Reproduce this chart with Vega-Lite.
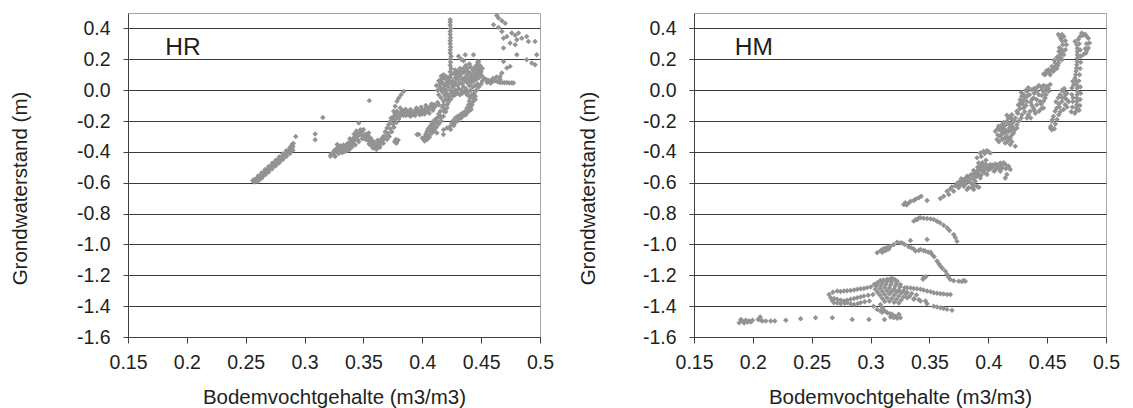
{
"$schema":"https://vega.github.io/schema/vega-lite/v6.json",
"background":"white",
"padding":{"left":9,"top":12,"right":5,"bottom":5},
"bounds":"flush",
"spacing":154,
"config":{"font":"Liberation Sans","view":{"stroke":"#a6a6a6","strokeWidth":1},
"axis":{"labelFont":"Liberation Sans","titleFont":"Liberation Sans","labelColor":"#231f20","titleColor":"#231f20","titleFontWeight":"normal","domainColor":"#404040","tickColor":"#404040","labelFontSize":19.5,"titleFontSize":20.5}},
"datasets":{
"lbl":[{"s":"HR","x":0.1816,"y":0.23},{"s":"HM","x":0.1847,"y":0.23}],
"pts":[
{"s":"HR","x":0.257,"y":-0.592},{"s":"HR","x":0.2585,"y":-0.582},{"s":"HR","x":0.26,"y":-0.571},{"s":"HR","x":0.2615,"y":-0.561},{"s":"HR","x":0.263,"y":-0.551},{"s":"HR","x":0.2645,"y":-0.541},{"s":"HR","x":0.266,"y":-0.531},{"s":"HR","x":0.2675,"y":-0.52},{"s":"HR","x":0.269,"y":-0.51},{"s":"HR","x":0.2705,"y":-0.5},{"s":"HR","x":0.272,"y":-0.49},{"s":"HR","x":0.2735,"y":-0.479},{"s":"HR","x":0.275,"y":-0.469},{"s":"HR","x":0.2765,"y":-0.459},{"s":"HR","x":0.278,"y":-0.449},{"s":"HR","x":0.2795,"y":-0.439},{"s":"HR","x":0.281,"y":-0.428},{"s":"HR","x":0.2825,"y":-0.418},{"s":"HR","x":0.284,"y":-0.408},{"s":"HR","x":0.2855,"y":-0.398},{"s":"HR","x":0.287,"y":-0.387},{"s":"HR","x":0.2885,"y":-0.377},{"s":"HR","x":0.29,"y":-0.367},
{"s":"HR","x":0.2595,"y":-0.59},{"s":"HR","x":0.262,"y":-0.574},{"s":"HR","x":0.2645,"y":-0.557},{"s":"HR","x":0.267,"y":-0.54},{"s":"HR","x":0.2695,"y":-0.523},{"s":"HR","x":0.272,"y":-0.506},{"s":"HR","x":0.2745,"y":-0.489},{"s":"HR","x":0.277,"y":-0.472},{"s":"HR","x":0.2795,"y":-0.455},{"s":"HR","x":0.282,"y":-0.438},{"s":"HR","x":0.2845,"y":-0.421},{"s":"HR","x":0.287,"y":-0.404},{"s":"HR","x":0.289,"y":-0.392},
{"s":"HR","x":0.2575,"y":-0.577},{"s":"HR","x":0.2605,"y":-0.556},{"s":"HR","x":0.2635,"y":-0.536},{"s":"HR","x":0.2665,"y":-0.515},{"s":"HR","x":0.2695,"y":-0.495},{"s":"HR","x":0.2725,"y":-0.474},{"s":"HR","x":0.2755,"y":-0.454},{"s":"HR","x":0.2785,"y":-0.433},{"s":"HR","x":0.2815,"y":-0.413},{"s":"HR","x":0.2845,"y":-0.392},{"s":"HR","x":0.2875,"y":-0.371},{"s":"HR","x":0.2895,"y":-0.36},
{"s":"HR","x":0.2605,"y":-0.59},{"s":"HR","x":0.2635,"y":-0.571},{"s":"HR","x":0.2665,"y":-0.55},{"s":"HR","x":0.2695,"y":-0.53},{"s":"HR","x":0.2725,"y":-0.51},{"s":"HR","x":0.2755,"y":-0.49},{"s":"HR","x":0.2785,"y":-0.47},{"s":"HR","x":0.2815,"y":-0.45},{"s":"HR","x":0.2845,"y":-0.43},{"s":"HR","x":0.2875,"y":-0.41},{"s":"HR","x":0.29,"y":-0.39},
{"s":"HR","x":0.2895,"y":-0.35},{"s":"HR","x":0.2905,"y":-0.345},{"s":"HR","x":0.2925,"y":-0.3},{"s":"HR","x":0.256,"y":-0.585},{"s":"HR","x":0.2575,"y":-0.596},
{"s":"HR","x":0.309,"y":-0.284},{"s":"HR","x":0.309,"y":-0.321},{"s":"HR","x":0.3155,"y":-0.178},{"s":"HR","x":0.355,"y":-0.068},{"s":"HR","x":0.3955,"y":-0.288},{"s":"HR","x":0.4124,"y":-0.277},{"s":"HR","x":0.418,"y":-0.288},
{"s":"HR","x":0.322,"y":-0.428},{"s":"HR","x":0.3225,"y":-0.415},{"s":"HR","x":0.324,"y":-0.405},{"s":"HR","x":0.3255,"y":-0.39},{"s":"HR","x":0.327,"y":-0.38},{"s":"HR","x":0.3277,"y":-0.353},{"s":"HR","x":0.329,"y":-0.37},{"s":"HR","x":0.3305,"y":-0.36},{"s":"HR","x":0.332,"y":-0.39},{"s":"HR","x":0.333,"y":-0.355},{"s":"HR","x":0.3345,"y":-0.38},{"s":"HR","x":0.3361,"y":-0.375},{"s":"HR","x":0.337,"y":-0.35},{"s":"HR","x":0.339,"y":-0.331},{"s":"HR","x":0.3395,"y":-0.36},{"s":"HR","x":0.341,"y":-0.315},{"s":"HR","x":0.3415,"y":-0.345},{"s":"HR","x":0.3432,"y":-0.299},{"s":"HR","x":0.3446,"y":-0.277},{"s":"HR","x":0.3474,"y":-0.256},{"s":"HR","x":0.346,"y":-0.213},{"s":"HR","x":0.345,"y":-0.32},{"s":"HR","x":0.348,"y":-0.29},{"s":"HR","x":0.3517,"y":-0.288},{"s":"HR","x":0.35,"y":-0.31},{"s":"HR","x":0.3545,"y":-0.277},{"s":"HR","x":0.353,"y":-0.3},{"s":"HR","x":0.356,"y":-0.31},{"s":"HR","x":0.355,"y":-0.33},{"s":"HR","x":0.3575,"y":-0.34},{"s":"HR","x":0.3587,"y":-0.353},{"s":"HR","x":0.36,"y":-0.37},{"s":"HR","x":0.3615,"y":-0.375},{"s":"HR","x":0.3625,"y":-0.36},{"s":"HR","x":0.3644,"y":-0.331},{"s":"HR","x":0.364,"y":-0.355},{"s":"HR","x":0.3655,"y":-0.315},{"s":"HR","x":0.3672,"y":-0.299},{"s":"HR","x":0.3685,"y":-0.27},{"s":"HR","x":0.37,"y":-0.245},{"s":"HR","x":0.3715,"y":-0.222},{"s":"HR","x":0.373,"y":-0.202},{"s":"HR","x":0.3745,"y":-0.185},{"s":"HR","x":0.3757,"y":-0.17},{"s":"HR","x":0.377,"y":-0.152},{"s":"HR","x":0.3785,"y":-0.137},{"s":"HR","x":0.3813,"y":-0.116},{"s":"HR","x":0.3785,"y":-0.331},{"s":"HR","x":0.3775,"y":-0.32},{"s":"HR","x":0.3795,"y":-0.325},{"s":"HR","x":0.378,"y":-0.345},{"s":"HR","x":0.3765,"y":-0.335},
{"s":"HR","x":0.325,"y":-0.42},{"s":"HR","x":0.327,"y":-0.4},{"s":"HR","x":0.329,"y":-0.385},{"s":"HR","x":0.331,"y":-0.375},{"s":"HR","x":0.333,"y":-0.37},{"s":"HR","x":0.335,"y":-0.36},{"s":"HR","x":0.337,"y":-0.365},{"s":"HR","x":0.339,"y":-0.35},{"s":"HR","x":0.341,"y":-0.33},{"s":"HR","x":0.343,"y":-0.32},{"s":"HR","x":0.345,"y":-0.3},{"s":"HR","x":0.347,"y":-0.28},{"s":"HR","x":0.349,"y":-0.27},{"s":"HR","x":0.351,"y":-0.3},{"s":"HR","x":0.353,"y":-0.32},{"s":"HR","x":0.355,"y":-0.35},{"s":"HR","x":0.357,"y":-0.36},{"s":"HR","x":0.359,"y":-0.365},{"s":"HR","x":0.361,"y":-0.355},{"s":"HR","x":0.363,"y":-0.345},{"s":"HR","x":0.365,"y":-0.34},{"s":"HR","x":0.367,"y":-0.32},{"s":"HR","x":0.369,"y":-0.3},{"s":"HR","x":0.371,"y":-0.28},{"s":"HR","x":0.373,"y":-0.25},{"s":"HR","x":0.375,"y":-0.22},{"s":"HR","x":0.377,"y":-0.19},{"s":"HR","x":0.379,"y":-0.17},{"s":"HR","x":0.381,"y":-0.15},{"s":"HR","x":0.383,"y":-0.135},{"s":"HR","x":0.385,"y":-0.128},{"s":"HR","x":0.358,"y":-0.33},{"s":"HR","x":0.36,"y":-0.345},{"s":"HR","x":0.362,"y":-0.325},{"s":"HR","x":0.356,"y":-0.32},{"s":"HR","x":0.3545,"y":-0.3},{"s":"HR","x":0.3525,"y":-0.285},{"s":"HR","x":0.3365,"y":-0.345},{"s":"HR","x":0.3385,"y":-0.315},
{"s":"HR","x":0.326,"y":-0.43},{"s":"HR","x":0.329,"y":-0.41},{"s":"HR","x":0.332,"y":-0.405},{"s":"HR","x":0.335,"y":-0.395},{"s":"HR","x":0.338,"y":-0.385},{"s":"HR","x":0.34,"y":-0.37},{"s":"HR","x":0.343,"y":-0.355},{"s":"HR","x":0.346,"y":-0.335},{"s":"HR","x":0.349,"y":-0.315},{"s":"HR","x":0.352,"y":-0.32},{"s":"HR","x":0.355,"y":-0.345},{"s":"HR","x":0.358,"y":-0.375},{"s":"HR","x":0.361,"y":-0.385},{"s":"HR","x":0.364,"y":-0.37},{"s":"HR","x":0.367,"y":-0.345},{"s":"HR","x":0.37,"y":-0.32},{"s":"HR","x":0.372,"y":-0.3},{"s":"HR","x":0.374,"y":-0.27},{"s":"HR","x":0.376,"y":-0.24},{"s":"HR","x":0.378,"y":-0.21},{"s":"HR","x":0.38,"y":-0.185},{"s":"HR","x":0.382,"y":-0.165},{"s":"HR","x":0.344,"y":-0.265},{"s":"HR","x":0.342,"y":-0.285},{"s":"HR","x":0.35,"y":-0.255},
{"s":"HR","x":0.3735,"y":-0.18},{"s":"HR","x":0.3757,"y":-0.137},{"s":"HR","x":0.377,"y":-0.105},{"s":"HR","x":0.3785,"y":-0.072},{"s":"HR","x":0.38,"y":-0.051},{"s":"HR","x":0.382,"y":-0.03},{"s":"HR","x":0.3842,"y":-0.008},
{"s":"HR","x":0.33,"y":-0.395},{"s":"HR","x":0.3335,"y":-0.4},{"s":"HR","x":0.3365,"y":-0.39},{"s":"HR","x":0.3305,"y":-0.4},
{"s":"HR","x":0.383,"y":-0.15},{"s":"HR","x":0.385,"y":-0.14},{"s":"HR","x":0.387,"y":-0.137},{"s":"HR","x":0.389,"y":-0.15},{"s":"HR","x":0.391,"y":-0.145},{"s":"HR","x":0.3927,"y":-0.148},{"s":"HR","x":0.395,"y":-0.14},{"s":"HR","x":0.3983,"y":-0.137},{"s":"HR","x":0.4,"y":-0.128},{"s":"HR","x":0.402,"y":-0.125},{"s":"HR","x":0.404,"y":-0.116},{"s":"HR","x":0.406,"y":-0.12},{"s":"HR","x":0.4096,"y":-0.116},{"s":"HR","x":0.411,"y":-0.105},{"s":"HR","x":0.414,"y":-0.094},{"s":"HR","x":0.386,"y":-0.125},{"s":"HR","x":0.39,"y":-0.125},{"s":"HR","x":0.394,"y":-0.13},{"s":"HR","x":0.397,"y":-0.15},{"s":"HR","x":0.401,"y":-0.145},{"s":"HR","x":0.405,"y":-0.135},{"s":"HR","x":0.388,"y":-0.16},{"s":"HR","x":0.384,"y":-0.162},
{"s":"HR","x":0.392,"y":-0.16},{"s":"HR","x":0.396,"y":-0.125},{"s":"HR","x":0.4,"y":-0.155},{"s":"HR","x":0.403,"y":-0.14},{"s":"HR","x":0.407,"y":-0.105},{"s":"HR","x":0.41,"y":-0.095},{"s":"HR","x":0.413,"y":-0.08},{"s":"HR","x":0.409,"y":-0.13},
{"s":"HR","x":0.386,"y":-0.165},{"s":"HR","x":0.39,"y":-0.17},{"s":"HR","x":0.394,"y":-0.165},{"s":"HR","x":0.398,"y":-0.16},{"s":"HR","x":0.402,"y":-0.155},{"s":"HR","x":0.406,"y":-0.15},{"s":"HR","x":0.395,"y":-0.115},{"s":"HR","x":0.399,"y":-0.11},{"s":"HR","x":0.403,"y":-0.1},{"s":"HR","x":0.408,"y":-0.09},
{"s":"HR","x":0.4237,"y":0.456},{"s":"HR","x":0.4237,"y":0.44},{"s":"HR","x":0.4237,"y":0.42},{"s":"HR","x":0.424,"y":0.4},{"s":"HR","x":0.4237,"y":0.38},{"s":"HR","x":0.4237,"y":0.36},{"s":"HR","x":0.424,"y":0.34},{"s":"HR","x":0.4237,"y":0.32},{"s":"HR","x":0.4237,"y":0.3},{"s":"HR","x":0.424,"y":0.28},{"s":"HR","x":0.4237,"y":0.26},{"s":"HR","x":0.4237,"y":0.24},{"s":"HR","x":0.4245,"y":0.22},{"s":"HR","x":0.4237,"y":0.2},{"s":"HR","x":0.424,"y":0.18},{"s":"HR","x":0.4237,"y":0.16},{"s":"HR","x":0.4245,"y":0.14},{"s":"HR","x":0.4237,"y":0.12},{"s":"HR","x":0.4245,"y":0.1},{"s":"HR","x":0.4237,"y":0.08},
{"s":"HR","x":0.414,"y":0.06},{"s":"HR","x":0.416,"y":0.07},{"s":"HR","x":0.418,"y":0.08},{"s":"HR","x":0.415,"y":0.04},{"s":"HR","x":0.417,"y":0.05},{"s":"HR","x":0.419,"y":0.03},{"s":"HR","x":0.421,"y":0.05},{"s":"HR","x":0.423,"y":0.06},{"s":"HR","x":0.425,"y":0.04},{"s":"HR","x":0.415,"y":0.02},{"s":"HR","x":0.418,"y":0.01},{"s":"HR","x":0.42,"y":0},{"s":"HR","x":0.422,"y":0.02},{"s":"HR","x":0.424,"y":0},{"s":"HR","x":0.426,"y":0.02},{"s":"HR","x":0.417,"y":-0.01},{"s":"HR","x":0.419,"y":-0.03},{"s":"HR","x":0.421,"y":-0.02},{"s":"HR","x":0.423,"y":-0.04},{"s":"HR","x":0.425,"y":-0.02},{"s":"HR","x":0.427,"y":-0.01},{"s":"HR","x":0.416,"y":-0.05},{"s":"HR","x":0.418,"y":-0.07},{"s":"HR","x":0.42,"y":-0.06},
{"s":"HR","x":0.428,"y":0.05},{"s":"HR","x":0.43,"y":0.07},{"s":"HR","x":0.432,"y":0.09},{"s":"HR","x":0.434,"y":0.11},{"s":"HR","x":0.436,"y":0.12},{"s":"HR","x":0.438,"y":0.1},{"s":"HR","x":0.44,"y":0.08},{"s":"HR","x":0.442,"y":0.09},{"s":"HR","x":0.444,"y":0.11},{"s":"HR","x":0.446,"y":0.13},{"s":"HR","x":0.448,"y":0.14},{"s":"HR","x":0.449,"y":0.12},{"s":"HR","x":0.45,"y":0.1},{"s":"HR","x":0.452,"y":0.08},{"s":"HR","x":0.43,"y":0.03},{"s":"HR","x":0.432,"y":0.05},{"s":"HR","x":0.434,"y":0.04},{"s":"HR","x":0.436,"y":0.06},{"s":"HR","x":0.438,"y":0.05},{"s":"HR","x":0.44,"y":0.03},{"s":"HR","x":0.442,"y":0.05},{"s":"HR","x":0.444,"y":0.06},{"s":"HR","x":0.446,"y":0.07},{"s":"HR","x":0.448,"y":0.08},{"s":"HR","x":0.431,"y":0.01},{"s":"HR","x":0.433,"y":0},{"s":"HR","x":0.435,"y":0.02},{"s":"HR","x":0.437,"y":0.01},{"s":"HR","x":0.439,"y":-0.01},{"s":"HR","x":0.441,"y":0},{"s":"HR","x":0.443,"y":0.02},{"s":"HR","x":0.445,"y":0.03},{"s":"HR","x":0.447,"y":0.04},{"s":"HR","x":0.43,"y":0.12},{"s":"HR","x":0.432,"y":0.14},{"s":"HR","x":0.429,"y":0.1},{"s":"HR","x":0.4308,"y":0.219},{"s":"HR","x":0.4365,"y":0.23},{"s":"HR","x":0.4435,"y":0.23},{"s":"HR","x":0.4478,"y":0.186},{"s":"HR","x":0.4492,"y":0.143},{"s":"HR","x":0.446,"y":0.16},{"s":"HR","x":0.441,"y":0.15},{"s":"HR","x":0.438,"y":0.14},
{"s":"HR","x":0.412,"y":0.03},{"s":"HR","x":0.413,"y":0},{"s":"HR","x":0.414,"y":-0.03},{"s":"HR","x":0.416,"y":0.09},{"s":"HR","x":0.418,"y":0.1},{"s":"HR","x":0.42,"y":0.09},{"s":"HR","x":0.422,"y":0.08},{"s":"HR","x":0.42,"y":0.07},{"s":"HR","x":0.422,"y":0.04},{"s":"HR","x":0.418,"y":0.04},{"s":"HR","x":0.416,"y":0.01},{"s":"HR","x":0.42,"y":-0.04},{"s":"HR","x":0.422,"y":-0.06},{"s":"HR","x":0.424,"y":-0.06},{"s":"HR","x":0.426,"y":-0.04},{"s":"HR","x":0.428,"y":-0.03},{"s":"HR","x":0.428,"y":0},{"s":"HR","x":0.427,"y":0.03},{"s":"HR","x":0.426,"y":0.06},{"s":"HR","x":0.428,"y":0.08},{"s":"HR","x":0.43,"y":0.09},{"s":"HR","x":0.431,"y":0.11},{"s":"HR","x":0.433,"y":0.12},{"s":"HR","x":0.435,"y":0.14},{"s":"HR","x":0.437,"y":0.16},{"s":"HR","x":0.439,"y":0.12},{"s":"HR","x":0.441,"y":0.11},{"s":"HR","x":0.443,"y":0.13},{"s":"HR","x":0.445,"y":0.15},{"s":"HR","x":0.447,"y":0.11},{"s":"HR","x":0.449,"y":0.09},{"s":"HR","x":0.451,"y":0.06},{"s":"HR","x":0.45,"y":0.04},{"s":"HR","x":0.448,"y":0.02},{"s":"HR","x":0.446,"y":0},{"s":"HR","x":0.444,"y":-0.02},{"s":"HR","x":0.442,"y":-0.03},{"s":"HR","x":0.44,"y":-0.04},{"s":"HR","x":0.438,"y":-0.03},{"s":"HR","x":0.436,"y":-0.01},{"s":"HR","x":0.434,"y":-0.02},{"s":"HR","x":0.432,"y":-0.03},{"s":"HR","x":0.43,"y":-0.02},{"s":"HR","x":0.44,"y":0.06},{"s":"HR","x":0.436,"y":0.08},{"s":"HR","x":0.434,"y":0.07},{"s":"HR","x":0.438,"y":0.075},{"s":"HR","x":0.442,"y":0.07},{"s":"HR","x":0.444,"y":0.085},{"s":"HR","x":0.446,"y":0.1},{"s":"HR","x":0.45,"y":0.12},{"s":"HR","x":0.451,"y":0.14},{"s":"HR","x":0.449,"y":0.16},{"s":"HR","x":0.447,"y":0.18},{"s":"HR","x":0.44,"y":0.17},{"s":"HR","x":0.435,"y":0.19},{"s":"HR","x":0.433,"y":0.2},{"s":"HR","x":0.428,"y":0.13},{"s":"HR","x":0.427,"y":0.11},
{"s":"HR","x":0.454,"y":0.07},{"s":"HR","x":0.456,"y":0.065},{"s":"HR","x":0.458,"y":0.06},{"s":"HR","x":0.46,"y":0.058},{"s":"HR","x":0.462,"y":0.06},{"s":"HR","x":0.464,"y":0.055},{"s":"HR","x":0.466,"y":0.05},{"s":"HR","x":0.468,"y":0.05},{"s":"HR","x":0.47,"y":0.048},{"s":"HR","x":0.472,"y":0.05},{"s":"HR","x":0.474,"y":0.046},{"s":"HR","x":0.476,"y":0.048},{"s":"HR","x":0.4775,"y":0.046},{"s":"HR","x":0.46,"y":0.075},{"s":"HR","x":0.463,"y":0.085},{"s":"HR","x":0.466,"y":0.07},{"s":"HR","x":0.455,"y":0.05},{"s":"HR","x":0.458,"y":0.045},
{"s":"HR","x":0.4181,"y":-0.094},{"s":"HR","x":0.417,"y":-0.11},{"s":"HR","x":0.4153,"y":-0.137},{"s":"HR","x":0.414,"y":-0.155},{"s":"HR","x":0.4125,"y":-0.18},{"s":"HR","x":0.411,"y":-0.19},{"s":"HR","x":0.4096,"y":-0.202},{"s":"HR","x":0.408,"y":-0.22},{"s":"HR","x":0.4068,"y":-0.234},{"s":"HR","x":0.405,"y":-0.25},{"s":"HR","x":0.404,"y":-0.267},{"s":"HR","x":0.403,"y":-0.285},{"s":"HR","x":0.4026,"y":-0.299},{"s":"HR","x":0.4012,"y":-0.32},{"s":"HR","x":0.4,"y":-0.31},{"s":"HR","x":0.402,"y":-0.33},{"s":"HR","x":0.404,"y":-0.32},{"s":"HR","x":0.406,"y":-0.305},{"s":"HR","x":0.408,"y":-0.28},{"s":"HR","x":0.41,"y":-0.26},{"s":"HR","x":0.412,"y":-0.24},{"s":"HR","x":0.414,"y":-0.22},{"s":"HR","x":0.416,"y":-0.2},{"s":"HR","x":0.418,"y":-0.17},{"s":"HR","x":0.42,"y":-0.14},{"s":"HR","x":0.421,"y":-0.115},{"s":"HR","x":0.419,"y":-0.125},{"s":"HR","x":0.407,"y":-0.255},{"s":"HR","x":0.405,"y":-0.29},
{"s":"HR","x":0.4211,"y":-0.094},{"s":"HR","x":0.4183,"y":-0.137},{"s":"HR","x":0.4155,"y":-0.18},{"s":"HR","x":0.4126,"y":-0.202},{"s":"HR","x":0.4098,"y":-0.234},{"s":"HR","x":0.407,"y":-0.267},{"s":"HR","x":0.4056,"y":-0.299},{"s":"HR","x":0.4042,"y":-0.315},{"s":"HR","x":0.422,"y":-0.08},{"s":"HR","x":0.415,"y":-0.165},{"s":"HR","x":0.411,"y":-0.215},{"s":"HR","x":0.409,"y":-0.25},
{"s":"HR","x":0.4407,"y":-0.051},{"s":"HR","x":0.44,"y":-0.07},{"s":"HR","x":0.4393,"y":-0.094},{"s":"HR","x":0.438,"y":-0.115},{"s":"HR","x":0.4365,"y":-0.137},{"s":"HR","x":0.434,"y":-0.15},{"s":"HR","x":0.4322,"y":-0.159},{"s":"HR","x":0.43,"y":-0.17},{"s":"HR","x":0.428,"y":-0.18},{"s":"HR","x":0.426,"y":-0.2},{"s":"HR","x":0.4252,"y":-0.213},{"s":"HR","x":0.4238,"y":-0.234},{"s":"HR","x":0.421,"y":-0.245},{"s":"HR","x":0.4181,"y":-0.256},{"s":"HR","x":0.442,"y":-0.09},{"s":"HR","x":0.441,"y":-0.11},{"s":"HR","x":0.443,"y":-0.075},{"s":"HR","x":0.437,"y":-0.16},{"s":"HR","x":0.433,"y":-0.18},{"s":"HR","x":0.43,"y":-0.2},{"s":"HR","x":0.427,"y":-0.22},{"s":"HR","x":0.424,"y":-0.255},{"s":"HR","x":0.4096,"y":-0.267},{"s":"HR","x":0.397,"y":-0.288},
{"s":"HR","x":0.4437,"y":-0.051},{"s":"HR","x":0.4423,"y":-0.094},{"s":"HR","x":0.4395,"y":-0.137},{"s":"HR","x":0.4352,"y":-0.165},{"s":"HR","x":0.431,"y":-0.185},{"s":"HR","x":0.428,"y":-0.205},{"s":"HR","x":0.4268,"y":-0.23},{"s":"HR","x":0.445,"y":-0.06},{"s":"HR","x":0.4415,"y":-0.125},{"s":"HR","x":0.438,"y":-0.145},{"s":"HR","x":0.445,"y":-0.04},
{"s":"HR","x":0.4633,"y":0.484},{"s":"HR","x":0.4647,"y":0.467},{"s":"HR","x":0.4676,"y":0.45},{"s":"HR","x":0.4704,"y":0.434},{"s":"HR","x":0.4605,"y":0.424},{"s":"HR","x":0.4647,"y":0.406},{"s":"HR","x":0.4676,"y":0.38},{"s":"HR","x":0.4718,"y":0.348},{"s":"HR","x":0.476,"y":0.37},{"s":"HR","x":0.4789,"y":0.355},{"s":"HR","x":0.4817,"y":0.37},{"s":"HR","x":0.4845,"y":0.337},{"s":"HR","x":0.4887,"y":0.348},{"s":"HR","x":0.4902,"y":0.316},{"s":"HR","x":0.4958,"y":0.316},{"s":"HR","x":0.469,"y":0.337},{"s":"HR","x":0.4746,"y":0.305},{"s":"HR","x":0.4803,"y":0.327},{"s":"HR","x":0.4789,"y":0.294},{"s":"HR","x":0.469,"y":0.273},{"s":"HR","x":0.4803,"y":0.23},{"s":"HR","x":0.4887,"y":0.197},{"s":"HR","x":0.493,"y":0.176},{"s":"HR","x":0.4958,"y":0.165},{"s":"HR","x":0.4972,"y":0.23},{"s":"HR","x":0.4718,"y":0.143},{"s":"HR","x":0.4746,"y":0.154},{"s":"HR","x":0.469,"y":0.186},{"s":"HR","x":0.4676,"y":0.111},{"s":"HR","x":0.4661,"y":0.089},
{"s":"HM","x":0.1884,"y":-1.507},{"s":"HM","x":0.1912,"y":-1.496},{"s":"HM","x":0.194,"y":-1.492},{"s":"HM","x":0.1969,"y":-1.496},{"s":"HM","x":0.1997,"y":-1.492},{"s":"HM","x":0.1898,"y":-1.487},{"s":"HM","x":0.1926,"y":-1.51},{"s":"HM","x":0.1955,"y":-1.503},{"s":"HM","x":0.1983,"y":-1.503},{"s":"HM","x":0.2045,"y":-1.486},{"s":"HM","x":0.2062,"y":-1.471},{"s":"HM","x":0.2082,"y":-1.496},{"s":"HM","x":0.211,"y":-1.496},{"s":"HM","x":0.2152,"y":-1.496},{"s":"HM","x":0.2186,"y":-1.496},{"s":"HM","x":0.2065,"y":-1.49},{"s":"HM","x":0.228,"y":-1.492},{"s":"HM","x":0.2406,"y":-1.481},{"s":"HM","x":0.2533,"y":-1.475},{"s":"HM","x":0.2675,"y":-1.475},{"s":"HM","x":0.2844,"y":-1.486},{"s":"HM","x":0.2986,"y":-1.486},{"s":"HM","x":0.3118,"y":-1.486},
{"s":"HM","x":0.3141,"y":-1.443},{"s":"HM","x":0.3165,"y":-1.45},{"s":"HM","x":0.3183,"y":-1.453},{"s":"HM","x":0.3197,"y":-1.475},{"s":"HM","x":0.3226,"y":-1.479},{"s":"HM","x":0.3254,"y":-1.475},{"s":"HM","x":0.324,"y":-1.453},{"s":"HM","x":0.317,"y":-1.47},{"s":"HM","x":0.3211,"y":-1.465},{"s":"HM","x":0.3025,"y":-1.4},{"s":"HM","x":0.3056,"y":-1.421},{"s":"HM","x":0.3084,"y":-1.432},{"s":"HM","x":0.3099,"y":-1.44},{"s":"HM","x":0.312,"y":-1.43},{"s":"HM","x":0.3084,"y":-1.389},{"s":"HM","x":0.31,"y":-1.41},
{"s":"HM","x":0.2647,"y":-1.324},{"s":"HM","x":0.268,"y":-1.31},{"s":"HM","x":0.2717,"y":-1.302},{"s":"HM","x":0.2745,"y":-1.305},{"s":"HM","x":0.2774,"y":-1.302},{"s":"HM","x":0.28,"y":-1.3},{"s":"HM","x":0.283,"y":-1.298},{"s":"HM","x":0.286,"y":-1.295},{"s":"HM","x":0.2887,"y":-1.291},{"s":"HM","x":0.2915,"y":-1.288},{"s":"HM","x":0.2943,"y":-1.285},{"s":"HM","x":0.297,"y":-1.28},{"s":"HM","x":0.3,"y":-1.276},{"s":"HM","x":0.303,"y":-1.26},{"s":"HM","x":0.3056,"y":-1.248},{"s":"HM","x":0.3084,"y":-1.233},{"s":"HM","x":0.311,"y":-1.23},{"s":"HM","x":0.314,"y":-1.227},{"s":"HM","x":0.3165,"y":-1.224},{"s":"HM","x":0.3183,"y":-1.22},{"s":"HM","x":0.3205,"y":-1.228},{"s":"HM","x":0.3226,"y":-1.238},{"s":"HM","x":0.3254,"y":-1.259},
{"s":"HM","x":0.3311,"y":-1.281},{"s":"HM","x":0.334,"y":-1.283},{"s":"HM","x":0.3367,"y":-1.285},{"s":"HM","x":0.3395,"y":-1.288},{"s":"HM","x":0.3424,"y":-1.291},{"s":"HM","x":0.345,"y":-1.296},{"s":"HM","x":0.348,"y":-1.302},{"s":"HM","x":0.351,"y":-1.307},{"s":"HM","x":0.3537,"y":-1.313},{"s":"HM","x":0.3565,"y":-1.316},{"s":"HM","x":0.3593,"y":-1.319},{"s":"HM","x":0.362,"y":-1.322},{"s":"HM","x":0.365,"y":-1.324},{"s":"HM","x":0.3678,"y":-1.324},
{"s":"HM","x":0.3311,"y":-1.31},{"s":"HM","x":0.333,"y":-1.338},{"s":"HM","x":0.337,"y":-1.35},{"s":"HM","x":0.341,"y":-1.358},{"s":"HM","x":0.3466,"y":-1.367},{"s":"HM","x":0.335,"y":-1.318},{"s":"HM","x":0.339,"y":-1.327},
{"s":"HM","x":0.3311,"y":-1.345},{"s":"HM","x":0.3367,"y":-1.356},{"s":"HM","x":0.3424,"y":-1.367},{"s":"HM","x":0.348,"y":-1.384},{"s":"HM","x":0.3537,"y":-1.4},{"s":"HM","x":0.3565,"y":-1.405},{"s":"HM","x":0.3593,"y":-1.41},{"s":"HM","x":0.362,"y":-1.415},{"s":"HM","x":0.365,"y":-1.421},{"s":"HM","x":0.3692,"y":-1.427},
{"s":"HM","x":0.2661,"y":-1.345},{"s":"HM","x":0.269,"y":-1.35},{"s":"HM","x":0.2717,"y":-1.356},{"s":"HM","x":0.2745,"y":-1.362},{"s":"HM","x":0.2774,"y":-1.367},{"s":"HM","x":0.28,"y":-1.362},{"s":"HM","x":0.283,"y":-1.356},{"s":"HM","x":0.286,"y":-1.35},{"s":"HM","x":0.2887,"y":-1.345},{"s":"HM","x":0.2915,"y":-1.34},{"s":"HM","x":0.2943,"y":-1.335},{"s":"HM","x":0.298,"y":-1.33},{"s":"HM","x":0.302,"y":-1.325},
{"s":"HM","x":0.2689,"y":-1.378},{"s":"HM","x":0.2718,"y":-1.38},{"s":"HM","x":0.2746,"y":-1.384},{"s":"HM","x":0.278,"y":-1.382},{"s":"HM","x":0.2802,"y":-1.378},{"s":"HM","x":0.283,"y":-1.385},{"s":"HM","x":0.2859,"y":-1.389},{"s":"HM","x":0.289,"y":-1.385},{"s":"HM","x":0.2915,"y":-1.378},{"s":"HM","x":0.295,"y":-1.372},{"s":"HM","x":0.299,"y":-1.367},{"s":"HM","x":0.2675,"y":-1.365},
{"s":"HM","x":0.306,"y":-1.25},{"s":"HM","x":0.31,"y":-1.245},{"s":"HM","x":0.314,"y":-1.24},{"s":"HM","x":0.318,"y":-1.245},{"s":"HM","x":0.322,"y":-1.255},{"s":"HM","x":0.305,"y":-1.27},{"s":"HM","x":0.309,"y":-1.265},{"s":"HM","x":0.313,"y":-1.26},{"s":"HM","x":0.317,"y":-1.262},{"s":"HM","x":0.321,"y":-1.27},{"s":"HM","x":0.325,"y":-1.275},{"s":"HM","x":0.329,"y":-1.28},{"s":"HM","x":0.304,"y":-1.29},{"s":"HM","x":0.308,"y":-1.285},{"s":"HM","x":0.312,"y":-1.28},{"s":"HM","x":0.316,"y":-1.282},{"s":"HM","x":0.32,"y":-1.29},{"s":"HM","x":0.324,"y":-1.295},{"s":"HM","x":0.328,"y":-1.3},{"s":"HM","x":0.306,"y":-1.31},{"s":"HM","x":0.31,"y":-1.305},{"s":"HM","x":0.314,"y":-1.3},{"s":"HM","x":0.318,"y":-1.305},{"s":"HM","x":0.322,"y":-1.31},{"s":"HM","x":0.326,"y":-1.315},{"s":"HM","x":0.33,"y":-1.32},{"s":"HM","x":0.308,"y":-1.33},{"s":"HM","x":0.312,"y":-1.325},{"s":"HM","x":0.316,"y":-1.322},{"s":"HM","x":0.32,"y":-1.33},{"s":"HM","x":0.324,"y":-1.335},{"s":"HM","x":0.328,"y":-1.34},{"s":"HM","x":0.31,"y":-1.35},{"s":"HM","x":0.314,"y":-1.345},{"s":"HM","x":0.318,"y":-1.35},{"s":"HM","x":0.322,"y":-1.355},{"s":"HM","x":0.326,"y":-1.36},{"s":"HM","x":0.312,"y":-1.37},{"s":"HM","x":0.316,"y":-1.368},{"s":"HM","x":0.32,"y":-1.375},{"s":"HM","x":0.324,"y":-1.38},
{"s":"HM","x":0.3084,"y":-1.043},{"s":"HM","x":0.3056,"y":-1.054},{"s":"HM","x":0.3098,"y":-1.033},{"s":"HM","x":0.312,"y":-1.025},{"s":"HM","x":0.314,"y":-1.022},{"s":"HM","x":0.317,"y":-1.01},{"s":"HM","x":0.3197,"y":-1.0},{"s":"HM","x":0.3226,"y":-0.985},{"s":"HM","x":0.3254,"y":-0.99},{"s":"HM","x":0.3268,"y":-0.99},{"s":"HM","x":0.329,"y":-1.0},{"s":"HM","x":0.3324,"y":-1.015},{"s":"HM","x":0.3345,"y":-1.022},{"s":"HM","x":0.3367,"y":-1.03},{"s":"HM","x":0.3381,"y":-1.043},{"s":"HM","x":0.341,"y":-1.04},{"s":"HM","x":0.3424,"y":-1.033},{"s":"HM","x":0.345,"y":-1.04},{"s":"HM","x":0.3466,"y":-1.043},{"s":"HM","x":0.349,"y":-1.05},{"s":"HM","x":0.351,"y":-1.05},{"s":"HM","x":0.3522,"y":-1.065},{"s":"HM","x":0.354,"y":-1.08},{"s":"HM","x":0.3565,"y":-1.108},{"s":"HM","x":0.358,"y":-1.125},{"s":"HM","x":0.3593,"y":-1.14},{"s":"HM","x":0.361,"y":-1.155},{"s":"HM","x":0.3635,"y":-1.173},{"s":"HM","x":0.365,"y":-1.195},{"s":"HM","x":0.366,"y":-1.21},{"s":"HM","x":0.3678,"y":-1.227},{"s":"HM","x":0.3706,"y":-1.235},{"s":"HM","x":0.3748,"y":-1.238},{"s":"HM","x":0.3775,"y":-1.24},{"s":"HM","x":0.3791,"y":-1.233},{"s":"HM","x":0.3805,"y":-1.238},{"s":"HM","x":0.3339,"y":-0.974},{"s":"HM","x":0.348,"y":-0.968},{"s":"HM","x":0.3452,"y":-1.216},{"s":"HM","x":0.347,"y":-1.21},{"s":"HM","x":0.3445,"y":-1.225},{"s":"HM","x":0.311,"y":-1.04},{"s":"HM","x":0.3155,"y":-1.03},{"s":"HM","x":0.31,"y":-1.05},{"s":"HM","x":0.313,"y":-1.04},
{"s":"HM","x":0.3367,"y":-0.849},{"s":"HM","x":0.3385,"y":-0.838},{"s":"HM","x":0.341,"y":-0.828},{"s":"HM","x":0.3423,"y":-0.827},{"s":"HM","x":0.345,"y":-0.83},{"s":"HM","x":0.348,"y":-0.832},{"s":"HM","x":0.351,"y":-0.835},{"s":"HM","x":0.3537,"y":-0.838},{"s":"HM","x":0.3565,"y":-0.85},{"s":"HM","x":0.359,"y":-0.86},{"s":"HM","x":0.362,"y":-0.875},{"s":"HM","x":0.365,"y":-0.892},{"s":"HM","x":0.367,"y":-0.91},{"s":"HM","x":0.3706,"y":-0.935},{"s":"HM","x":0.372,"y":-0.955},{"s":"HM","x":0.3734,"y":-0.979},{"s":"HM","x":0.3395,"y":-0.84},
{"s":"HM","x":0.3282,"y":-0.741},{"s":"HM","x":0.3295,"y":-0.73},{"s":"HM","x":0.3325,"y":-0.731},{"s":"HM","x":0.334,"y":-0.72},{"s":"HM","x":0.3367,"y":-0.715},{"s":"HM","x":0.3385,"y":-0.705},{"s":"HM","x":0.341,"y":-0.698},{"s":"HM","x":0.343,"y":-0.687},{"s":"HM","x":0.3305,"y":-0.745},{"s":"HM","x":0.348,"y":-0.715},
{"s":"HM","x":0.3593,"y":-0.702},{"s":"HM","x":0.3621,"y":-0.687},{"s":"HM","x":0.3664,"y":-0.677},{"s":"HM","x":0.3706,"y":-0.655},{"s":"HM","x":0.3748,"y":-0.633},{"s":"HM","x":0.3791,"y":-0.623},{"s":"HM","x":0.3819,"y":-0.644},{"s":"HM","x":0.3861,"y":-0.633},{"s":"HM","x":0.3904,"y":-0.623},{"s":"HM","x":0.365,"y":-0.655},{"s":"HM","x":0.3678,"y":-0.64},{"s":"HM","x":0.3735,"y":-0.612},{"s":"HM","x":0.3763,"y":-0.59},{"s":"HM","x":0.3791,"y":-0.58},{"s":"HM","x":0.3805,"y":-0.612},{"s":"HM","x":0.3834,"y":-0.633},{"s":"HM","x":0.3876,"y":-0.644},{"s":"HM","x":0.382,"y":-0.558},{"s":"HM","x":0.3862,"y":-0.547},{"s":"HM","x":0.3904,"y":-0.526},{"s":"HM","x":0.3932,"y":-0.504},{"s":"HM","x":0.396,"y":-0.493},{"s":"HM","x":0.3989,"y":-0.504},{"s":"HM","x":0.4017,"y":-0.482},{"s":"HM","x":0.406,"y":-0.478},{"s":"HM","x":0.4102,"y":-0.472},{"s":"HM","x":0.4144,"y":-0.482},{"s":"HM","x":0.4173,"y":-0.493},{"s":"HM","x":0.4187,"y":-0.515},{"s":"HM","x":0.4158,"y":-0.547},{"s":"HM","x":0.4102,"y":-0.526},{"s":"HM","x":0.405,"y":-0.526},{"s":"HM","x":0.3989,"y":-0.547},{"s":"HM","x":0.3932,"y":-0.569},{"s":"HM","x":0.389,"y":-0.59},{"s":"HM","x":0.3904,"y":-0.439},{"s":"HM","x":0.3932,"y":-0.407},{"s":"HM","x":0.396,"y":-0.396},{"s":"HM","x":0.3989,"y":-0.392},{"s":"HM","x":0.4017,"y":-0.407},{"s":"HM","x":0.3918,"y":-0.472},{"s":"HM","x":0.4144,"y":-0.569},{"s":"HM","x":0.385,"y":-0.6},{"s":"HM","x":0.384,"y":-0.575},{"s":"HM","x":0.388,"y":-0.565},{"s":"HM","x":0.392,"y":-0.545},{"s":"HM","x":0.395,"y":-0.525},{"s":"HM","x":0.397,"y":-0.51},{"s":"HM","x":0.4,"y":-0.52},{"s":"HM","x":0.403,"y":-0.5},{"s":"HM","x":0.407,"y":-0.5},{"s":"HM","x":0.411,"y":-0.49},{"s":"HM","x":0.395,"y":-0.47},{"s":"HM","x":0.398,"y":-0.455},{"s":"HM","x":0.3875,"y":-0.52},{"s":"HM","x":0.378,"y":-0.6},{"s":"HM","x":0.3805,"y":-0.59},{"s":"HM","x":0.372,"y":-0.62},{"s":"HM","x":0.369,"y":-0.628},
{"s":"HM","x":0.391,"y":-0.5},{"s":"HM","x":0.394,"y":-0.49},{"s":"HM","x":0.398,"y":-0.48},{"s":"HM","x":0.401,"y":-0.495},{"s":"HM","x":0.404,"y":-0.485},{"s":"HM","x":0.408,"y":-0.485},{"s":"HM","x":0.412,"y":-0.505},{"s":"HM","x":0.409,"y":-0.51},{"s":"HM","x":0.406,"y":-0.515},{"s":"HM","x":0.402,"y":-0.51},{"s":"HM","x":0.397,"y":-0.535},{"s":"HM","x":0.394,"y":-0.55},{"s":"HM","x":0.39,"y":-0.56},{"s":"HM","x":0.387,"y":-0.575},{"s":"HM","x":0.383,"y":-0.59},{"s":"HM","x":0.38,"y":-0.605},{"s":"HM","x":0.376,"y":-0.615},{"s":"HM","x":0.374,"y":-0.6},{"s":"HM","x":0.377,"y":-0.575},{"s":"HM","x":0.381,"y":-0.57},{"s":"HM","x":0.385,"y":-0.55},{"s":"HM","x":0.389,"y":-0.54},{"s":"HM","x":0.393,"y":-0.515},{"s":"HM","x":0.415,"y":-0.51},{"s":"HM","x":0.413,"y":-0.47},{"s":"HM","x":0.394,"y":-0.43},{"s":"HM","x":0.397,"y":-0.41},{"s":"HM","x":0.4,"y":-0.4},{"s":"HM","x":0.388,"y":-0.62},{"s":"HM","x":0.392,"y":-0.63},{"s":"HM","x":0.386,"y":-0.605},
{"s":"HM","x":0.406,"y":-0.267},{"s":"HM","x":0.4088,"y":-0.234},{"s":"HM","x":0.4116,"y":-0.224},{"s":"HM","x":0.4158,"y":-0.202},{"s":"HM","x":0.4201,"y":-0.213},{"s":"HM","x":0.4243,"y":-0.224},{"s":"HM","x":0.4243,"y":-0.245},{"s":"HM","x":0.4215,"y":-0.278},{"s":"HM","x":0.4187,"y":-0.31},{"s":"HM","x":0.4144,"y":-0.342},{"s":"HM","x":0.4187,"y":-0.353},{"s":"HM","x":0.4229,"y":-0.364},{"s":"HM","x":0.4158,"y":-0.163},{"s":"HM","x":0.42,"y":-0.16},{"s":"HM","x":0.4074,"y":-0.32},{"s":"HM","x":0.41,"y":-0.3},{"s":"HM","x":0.4215,"y":-0.245},{"s":"HM","x":0.418,"y":-0.245},{"s":"HM","x":0.413,"y":-0.25},{"s":"HM","x":0.41,"y":-0.26},{"s":"HM","x":0.414,"y":-0.28},{"s":"HM","x":0.417,"y":-0.27},{"s":"HM","x":0.412,"y":-0.32},{"s":"HM","x":0.409,"y":-0.335},{"s":"HM","x":0.416,"y":-0.3},{"s":"HM","x":0.42,"y":-0.19},{"s":"HM","x":0.417,"y":-0.18},{"s":"HM","x":0.422,"y":-0.2},
{"s":"HM","x":0.408,"y":-0.25},{"s":"HM","x":0.412,"y":-0.27},{"s":"HM","x":0.415,"y":-0.26},{"s":"HM","x":0.419,"y":-0.26},{"s":"HM","x":0.422,"y":-0.26},{"s":"HM","x":0.42,"y":-0.29},{"s":"HM","x":0.417,"y":-0.32},{"s":"HM","x":0.414,"y":-0.31},{"s":"HM","x":0.411,"y":-0.29},{"s":"HM","x":0.408,"y":-0.29},{"s":"HM","x":0.42,"y":-0.23},{"s":"HM","x":0.417,"y":-0.22},{"s":"HM","x":0.414,"y":-0.23},{"s":"HM","x":0.411,"y":-0.24},{"s":"HM","x":0.419,"y":-0.17},{"s":"HM","x":0.423,"y":-0.18},{"s":"HM","x":0.42,"y":-0.335},{"s":"HM","x":0.416,"y":-0.335},{"s":"HM","x":0.426,"y":-0.2},{"s":"HM","x":0.413,"y":-0.21},
{"s":"HM","x":0.4243,"y":-0.137},{"s":"HM","x":0.4257,"y":-0.094},{"s":"HM","x":0.4271,"y":-0.062},{"s":"HM","x":0.43,"y":-0.029},{"s":"HM","x":0.4328,"y":-0.008},{"s":"HM","x":0.437,"y":0.003},{"s":"HM","x":0.4413,"y":-0.008},{"s":"HM","x":0.4455,"y":0.003},{"s":"HM","x":0.4497,"y":0.025},{"s":"HM","x":0.4526,"y":0.036},{"s":"HM","x":0.4512,"y":-0.008},{"s":"HM","x":0.4483,"y":-0.051},{"s":"HM","x":0.4469,"y":-0.116},{"s":"HM","x":0.444,"y":-0.073},{"s":"HM","x":0.4384,"y":-0.051},{"s":"HM","x":0.4328,"y":-0.073},{"s":"HM","x":0.43,"y":-0.116},{"s":"HM","x":0.4286,"y":-0.159},{"s":"HM","x":0.4328,"y":-0.18},{"s":"HM","x":0.4356,"y":-0.137},{"s":"HM","x":0.4384,"y":-0.116},{"s":"HM","x":0.4413,"y":-0.094},{"s":"HM","x":0.443,"y":-0.137},{"s":"HM","x":0.4285,"y":-0.04},{"s":"HM","x":0.431,"y":-0.05},{"s":"HM","x":0.435,"y":-0.03},{"s":"HM","x":0.439,"y":-0.02},{"s":"HM","x":0.443,"y":-0.03},{"s":"HM","x":0.447,"y":-0.01},{"s":"HM","x":0.449,"y":0.01},{"s":"HM","x":0.436,"y":-0.08},{"s":"HM","x":0.432,"y":-0.1},{"s":"HM","x":0.427,"y":-0.12},{"s":"HM","x":0.434,"y":0.015},{"s":"HM","x":0.445,"y":0.02},{"s":"HM","x":0.4455,"y":-0.035},{"s":"HM","x":0.4275,"y":-0.08},
{"s":"HM","x":0.429,"y":-0.09},{"s":"HM","x":0.431,"y":-0.14},{"s":"HM","x":0.434,"y":-0.16},{"s":"HM","x":0.437,"y":-0.1},{"s":"HM","x":0.439,"y":-0.13},{"s":"HM","x":0.441,"y":-0.06},{"s":"HM","x":0.445,"y":-0.09},{"s":"HM","x":0.447,"y":-0.07},{"s":"HM","x":0.449,"y":-0.03},{"s":"HM","x":0.451,"y":0.01},{"s":"HM","x":0.447,"y":0.03},{"s":"HM","x":0.441,"y":0.015},{"s":"HM","x":0.437,"y":-0.06},{"s":"HM","x":0.433,"y":-0.04},{"s":"HM","x":0.43,"y":-0.07},{"s":"HM","x":0.426,"y":-0.1},{"s":"HM","x":0.425,"y":-0.15},{"s":"HM","x":0.428,"y":-0.18},{"s":"HM","x":0.436,"y":-0.18},{"s":"HM","x":0.44,"y":-0.15},{"s":"HM","x":0.445,"y":-0.12},{"s":"HM","x":0.432,"y":0},{"s":"HM","x":0.428,"y":-0.015},{"s":"HM","x":0.443,"y":0.03},{"s":"HM","x":0.439,"y":0.01},
{"s":"HM","x":0.4611,"y":0.348},{"s":"HM","x":0.4625,"y":0.32},{"s":"HM","x":0.4633,"y":0.294},{"s":"HM","x":0.4625,"y":0.262},{"s":"HM","x":0.4611,"y":0.23},{"s":"HM","x":0.4596,"y":0.197},{"s":"HM","x":0.4568,"y":0.176},{"s":"HM","x":0.454,"y":0.154},{"s":"HM","x":0.4512,"y":0.132},{"s":"HM","x":0.4492,"y":0.111},{"s":"HM","x":0.4483,"y":0.1},{"s":"HM","x":0.4526,"y":0.1},{"s":"HM","x":0.4554,"y":0.122},{"s":"HM","x":0.4582,"y":0.14},{"s":"HM","x":0.4605,"y":0.275},{"s":"HM","x":0.46,"y":0.25},{"s":"HM","x":0.4585,"y":0.215},{"s":"HM","x":0.456,"y":0.195},{"s":"HM","x":0.4505,"y":0.12},{"s":"HM","x":0.4615,"y":0.335},
{"s":"HM","x":0.4641,"y":0.348},{"s":"HM","x":0.4655,"y":0.32},{"s":"HM","x":0.4663,"y":0.294},{"s":"HM","x":0.4655,"y":0.262},{"s":"HM","x":0.4641,"y":0.23},{"s":"HM","x":0.4626,"y":0.197},{"s":"HM","x":0.4598,"y":0.176},{"s":"HM","x":0.457,"y":0.154},{"s":"HM","x":0.4542,"y":0.132},{"s":"HM","x":0.4522,"y":0.111},{"s":"HM","x":0.4595,"y":0.36},{"s":"HM","x":0.4625,"y":0.36},{"s":"HM","x":0.463,"y":0.245},{"s":"HM","x":0.4615,"y":0.21},{"s":"HM","x":0.459,"y":0.16},{"s":"HM","x":0.4565,"y":0.14},{"s":"HM","x":0.447,"y":0.105},{"s":"HM","x":0.4495,"y":0.125},
{"s":"HM","x":0.4737,"y":0.316},{"s":"HM","x":0.4752,"y":0.294},{"s":"HM","x":0.4757,"y":0.272},{"s":"HM","x":0.4757,"y":0.251},{"s":"HM","x":0.4757,"y":0.23},{"s":"HM","x":0.4757,"y":0.208},{"s":"HM","x":0.4755,"y":0.186},{"s":"HM","x":0.4752,"y":0.165},{"s":"HM","x":0.475,"y":0.143},{"s":"HM","x":0.4746,"y":0.122},{"s":"HM","x":0.4742,"y":0.1},{"s":"HM","x":0.4737,"y":0.078},{"s":"HM","x":0.4745,"y":0.057},{"s":"HM","x":0.4752,"y":0.035},{"s":"HM","x":0.4755,"y":0.014},{"s":"HM","x":0.4757,"y":-0.008},{"s":"HM","x":0.4755,"y":-0.03},{"s":"HM","x":0.4752,"y":-0.051},{"s":"HM","x":0.4752,"y":-0.073},{"s":"HM","x":0.4752,"y":-0.094},{"s":"HM","x":0.4749,"y":-0.115},{"s":"HM","x":0.4746,"y":-0.137},{"s":"HM","x":0.4735,"y":-0.15},{"s":"HM","x":0.4718,"y":-0.073},{"s":"HM","x":0.471,"y":-0.029},{"s":"HM","x":0.471,"y":0.014},{"s":"HM","x":0.4718,"y":0.057},{"s":"HM","x":0.4725,"y":0.035},{"s":"HM","x":0.472,"y":-0.05},
{"s":"HM","x":0.4772,"y":0.3},{"s":"HM","x":0.4782,"y":0.26},{"s":"HM","x":0.4787,"y":0.22},{"s":"HM","x":0.4785,"y":0.18},{"s":"HM","x":0.478,"y":0.14},{"s":"HM","x":0.4775,"y":0.1},{"s":"HM","x":0.477,"y":0.06},{"s":"HM","x":0.4782,"y":0.02},{"s":"HM","x":0.4785,"y":-0.02},{"s":"HM","x":0.478,"y":-0.06},{"s":"HM","x":0.4778,"y":-0.1},{"s":"HM","x":0.4772,"y":-0.13},{"s":"HM","x":0.4715,"y":-0.11},{"s":"HM","x":0.4705,"y":-0.14},
{"s":"HM","x":0.478,"y":0.348},{"s":"HM","x":0.4794,"y":0.37},{"s":"HM","x":0.4822,"y":0.363},{"s":"HM","x":0.485,"y":0.337},{"s":"HM","x":0.4859,"y":0.305},{"s":"HM","x":0.485,"y":0.273},{"s":"HM","x":0.483,"y":0.24},{"s":"HM","x":0.481,"y":0.232},{"s":"HM","x":0.4765,"y":0.33},{"s":"HM","x":0.4805,"y":0.355},{"s":"HM","x":0.4835,"y":0.35},{"s":"HM","x":0.4835,"y":0.3},{"s":"HM","x":0.4825,"y":0.27},{"s":"HM","x":0.4835,"y":0.255},
{"s":"HM","x":0.4639,"y":-0.008},{"s":"HM","x":0.4653,"y":-0.051},{"s":"HM","x":0.4625,"y":-0.073},{"s":"HM","x":0.4611,"y":-0.029},{"s":"HM","x":0.4653,"y":-0.094},{"s":"HM","x":0.4639,"y":-0.126},{"s":"HM","x":0.4582,"y":-0.116},{"s":"HM","x":0.4568,"y":-0.137},{"s":"HM","x":0.4554,"y":-0.17},{"s":"HM","x":0.454,"y":-0.202},{"s":"HM","x":0.4531,"y":-0.234},{"s":"HM","x":0.454,"y":-0.256},{"s":"HM","x":0.4667,"y":-0.062},{"s":"HM","x":0.46,"y":-0.09},{"s":"HM","x":0.4645,"y":0.01},{"s":"HM","x":0.4655,"y":-0.03},{"s":"HM","x":0.463,"y":-0.05},{"s":"HM","x":0.4605,"y":-0.11},{"s":"HM","x":0.4545,"y":-0.19},{"s":"HM","x":0.4528,"y":-0.245},
{"s":"HM","x":0.4669,"y":-0.02},{"s":"HM","x":0.4683,"y":-0.075},{"s":"HM","x":0.4669,"y":-0.11},{"s":"HM","x":0.4612,"y":-0.14},{"s":"HM","x":0.4598,"y":-0.16},{"s":"HM","x":0.4584,"y":-0.19},{"s":"HM","x":0.457,"y":-0.22},{"s":"HM","x":0.4561,"y":-0.25},{"s":"HM","x":0.4575,"y":-0.075},{"s":"HM","x":0.4595,"y":-0.05},{"s":"HM","x":0.4625,"y":0}
]},
"hconcat":[
{"width":412,"height":324,
"layer":[
{"data":{"name":"pts"},"transform":[{"filter":"datum.s == 'HR'"}],
"mark":{"type":"point","shape":"diamond","filled":true,"size":30,"color":"#939393","opacity":1},
"encoding":{
"x":{"field":"x","type":"quantitative","scale":{"domain":[0.15,0.5],"nice":false,"zero":false},
"axis":{"title":"Bodemvochtgehalte (m3/m3)","values":[0.15,0.2,0.25,0.3,0.35,0.4,0.45,0.5],"tickCount":20,"format":".2~f","grid":false,"tickSize":6,"labelPadding":10,"labelFlush":false,"labelOverlap":false,"titleBaseline":"alphabetic","titleY":66}},
"y":{"field":"y","type":"quantitative","scale":{"domain":[-1.6,0.5],"nice":false,"zero":false},
"axis":{"title":"Grondwaterstand (m)","values":[-1.6,-1.4,-1.2,-1.0,-0.8,-0.6,-0.4,-0.2,0,0.2,0.4],"tickCount":30,"labelExpr":"datum.value < -0.00001 ? '-' + format(-datum.value, '.1f') : format(datum.value, '.1f')","grid":true,"gridColor":"#3a3a3a","gridWidth":1,"tickSize":5,"labelPadding":13,"labelOverlap":false,"titleAngle":270,"titleBaseline":"alphabetic","titleAlign":"center","titleX":-102,"titleY":175}}}},
{"data":{"name":"lbl"},"transform":[{"filter":"datum.s == 'HR'"}],
"mark":{"type":"text","align":"left","baseline":"alphabetic","fontSize":24.5,"font":"Liberation Sans","color":"#231f20"},
"encoding":{"x":{"field":"x","type":"quantitative"},"y":{"field":"y","type":"quantitative"},"text":{"field":"s"}}}
]},
{"width":412,"height":324,
"layer":[
{"data":{"name":"pts"},"transform":[{"filter":"datum.s == 'HM'"}],
"mark":{"type":"point","shape":"diamond","filled":true,"size":30,"color":"#939393","opacity":1},
"encoding":{
"x":{"field":"x","type":"quantitative","scale":{"domain":[0.15,0.5],"nice":false,"zero":false},
"axis":{"title":"Bodemvochtgehalte (m3/m3)","values":[0.15,0.2,0.25,0.3,0.35,0.4,0.45,0.5],"tickCount":20,"format":".2~f","grid":false,"tickSize":6,"labelPadding":10,"labelFlush":false,"labelOverlap":false,"titleBaseline":"alphabetic","titleY":66}},
"y":{"field":"y","type":"quantitative","scale":{"domain":[-1.6,0.5],"nice":false,"zero":false},
"axis":{"title":"Grondwaterstand (m)","values":[-1.6,-1.4,-1.2,-1.0,-0.8,-0.6,-0.4,-0.2,0,0.2,0.4],"tickCount":30,"labelExpr":"datum.value < -0.00001 ? '-' + format(-datum.value, '.1f') : format(datum.value, '.1f')","grid":true,"gridColor":"#3a3a3a","gridWidth":1,"tickSize":5,"labelPadding":13,"labelOverlap":false,"titleAngle":270,"titleBaseline":"alphabetic","titleAlign":"center","titleX":-100,"titleY":175}}}},
{"data":{"name":"lbl"},"transform":[{"filter":"datum.s == 'HM'"}],
"mark":{"type":"text","align":"left","baseline":"alphabetic","fontSize":24.5,"font":"Liberation Sans","color":"#231f20"},
"encoding":{"x":{"field":"x","type":"quantitative"},"y":{"field":"y","type":"quantitative"},"text":{"field":"s"}}}
]}
]
}
